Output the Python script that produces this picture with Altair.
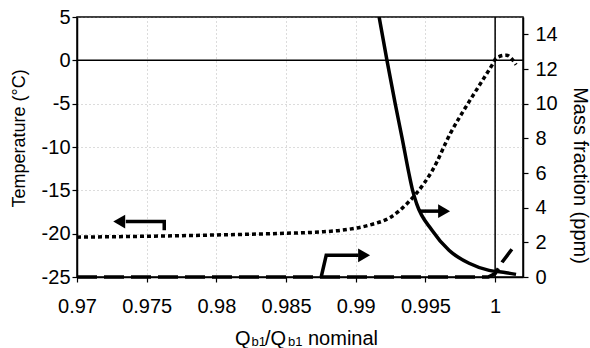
import altair as alt
import pandas as pd

# Temperature (left axis, °C) versus flow ratio
temp_x = [0.970, 0.975, 0.980, 0.985, 0.9875, 0.989, 0.991, 0.9925, 0.9937,
          0.9949, 0.9955, 0.9968, 0.9982, 0.9991, 0.9998, 1.0001, 1.0008, 1.0015]
temp_y = [-20.4, -20.3, -20.15, -19.95, -19.8, -19.6, -19.0, -18.1, -16.5,
          -14.2, -12.7, -8.4, -4.6, -2.3, -0.5, 0.3, 0.6, -0.5]

# Mass fraction (right axis, ppm), solid curve
solid_x = [0.99161, 0.99224, 0.99283, 0.99333, 0.99381, 0.99408, 0.99436,
           0.99547, 0.99669, 0.99813, 0.99957, 1.0008, 1.0015]
solid_y = [15.3, 12.5, 10.0, 8.0, 6.0, 5.0, 4.25, 2.7, 1.54, 0.79, 0.38, 0.25, 0.15]

# Mass fraction (right axis, ppm), dashed curve
dash_x = [0.970, 0.980, 0.990, 0.9995, 1.0000, 1.0005, 1.0012]
dash_y = [0.0, 0.0, 0.0, 0.0, 0.2, 0.85, 1.6]

# Arrow annotations (data coordinates)
arrow_left_x = [0.97626, 0.97626, 0.9735]      # temperature axis
arrow_left_y = [-19.6, -18.6, -18.6]
arrow_solid_x = [0.99455, 0.9961]              # mass-fraction axis
arrow_solid_y = [3.8, 3.8]
arrow_bent_x = [0.98752, 0.98788, 0.9902]      # mass-fraction axis
arrow_bent_y = [0.0, 1.25, 1.25]
head_left = {"x": [0.97303], "y": [-18.6]}
head_right = {"x": [0.99634, 0.9906], "y": [3.8, 1.25]}

x_ticks = [0.97, 0.975, 0.98, 0.985, 0.99, 0.995, 1.0]
t_ticks = [-25, -20, -15, -10, -5, 0, 5]
m_ticks = [0, 2, 4, 6, 8, 10, 12, 14]

FONT = "Liberation Sans"

xscale = alt.Scale(domain=[0.97, 1.002], nice=False, zero=False)
tscale = alt.Scale(domain=[-25, 5], nice=False, zero=False)
mscale = alt.Scale(domain=[0, 15], nice=False, zero=True)

common = dict(labelFont=FONT, labelFontSize=20, labelColor="black",
              titleFont=FONT, titleFontWeight="normal", titleColor="black",
              domainColor="black", domainWidth=1.5, tickColor="black",
              tickWidth=1.2, labelOverlap=False)

x_axis = alt.Axis(values=x_ticks, format=".3~f", title="", grid=True,
                  gridDash=[1, 3], gridColor="#888888", gridOpacity=0.6,
                  tickSize=5, labelPadding=14, labelFlush=False, **common)
t_axis = alt.Axis(values=t_ticks, title="Temperature  (°C)",
                  labelExpr="replace(format(datum.value, 'd'), '\u2212', '-')",
                  grid=True, gridDash=[1, 3], gridColor="#888888", gridOpacity=0.6,
                  tickSize=5, labelPadding=2,
                  titleAngle=270, titleX=-58, titleY=121, titleAlign="center",
                  titleBaseline="middle", titleFontSize=18, **common)
m_axis = alt.Axis(values=m_ticks, format="d", title="Mass fraction (ppm)",
                  orient="right", grid=False, tickSize=5, labelPadding=7,
                  titleAngle=90, titleX=56, titleY=158, titleAlign="center",
                  titleBaseline="middle", titleFontSize=20, **common)

temp_df = pd.DataFrame({"x": temp_x, "y": temp_y})
solid_df = pd.DataFrame({"x": solid_x, "y": solid_y})
dash_df = pd.DataFrame({"x": dash_x, "y": dash_y})
al_df = pd.DataFrame({"x": arrow_left_x, "y": arrow_left_y, "o": range(3)})
as_df = pd.DataFrame({"x": arrow_solid_x, "y": arrow_solid_y, "o": range(2)})
ab_df = pd.DataFrame({"x": arrow_bent_x, "y": arrow_bent_y, "o": range(3)})
hl_df = pd.DataFrame(head_left)
hr_df = pd.DataFrame(head_right)
one = pd.DataFrame({"k": [0]})

# every layer uses the same axis definition, so the merged axes agree
X = lambda: alt.X("x:Q", scale=xscale, axis=x_axis)
YT = lambda: alt.Y("y:Q", scale=tscale, axis=t_axis)
YM = lambda: alt.Y("y:Q", scale=mscale, axis=m_axis)

# ---- temperature layer (left axis) ----
temp_line = alt.Chart(temp_df).mark_line(
    color="black", strokeWidth=3.5, strokeDash=[4, 3], interpolate="monotone"
).encode(x=X(), y=YT())

zero_rule = alt.Chart(one).mark_rule(color="black", strokeWidth=1.5).encode(
    y=alt.datum(0, scale=tscale, type="quantitative", axis=t_axis))

one_rule = alt.Chart(one).mark_rule(color="black", strokeWidth=1.5).encode(
    x=alt.datum(1.0, scale=xscale, type="quantitative", axis=x_axis))

left_arrow = alt.Chart(al_df).mark_line(color="black", strokeWidth=3.5).encode(
    x=X(), y=YT(), order="o:Q")
left_head = alt.Chart(hl_df).mark_point(
    shape="triangle-left", filled=True, color="black", size=190, opacity=1
).encode(x=X(), y=YT())

# x-axis title with subscripts, assembled from text pieces
def piece(txt, px, py, size):
    return alt.Chart(one).mark_text(
        text=txt, align="left", baseline="alphabetic", font=FONT,
        fontSize=size, color="black"
    ).encode(x=alt.value(px), y=alt.value(py))

title_parts = [
    piece("Q", 158, 328, 20),
    piece("b1", 174.5, 329, 13),
    piece("/Q", 188, 328, 20),
    piece("b1", 211, 329, 13),
    piece("nominal", 231, 328, 20),
]

temp_layer = alt.layer(temp_line, zero_rule, one_rule, left_arrow, left_head,
                       *title_parts)

# ---- mass-fraction layer (right axis) ----
solid_line = alt.Chart(solid_df).mark_line(
    color="black", strokeWidth=3.5, interpolate="monotone", clip=True
).encode(x=X(), y=YM())

dash_line = alt.Chart(dash_df).mark_line(
    color="black", strokeWidth=3.5, strokeDash=[20, 7]
).encode(x=X(), y=YM())

solid_arrow = alt.Chart(as_df).mark_line(color="black", strokeWidth=3.5).encode(
    x=X(), y=YM(), order="o:Q")
bent_arrow = alt.Chart(ab_df).mark_line(color="black", strokeWidth=3.5).encode(
    x=X(), y=YM(), order="o:Q")
right_heads = alt.Chart(hr_df).mark_point(
    shape="triangle-right", filled=True, color="black", size=190, opacity=1
).encode(x=X(), y=YM())

mass_layer = alt.layer(solid_line, dash_line, solid_arrow, bent_arrow, right_heads)

chart = alt.layer(temp_layer, mass_layer).resolve_scale(
    y="independent"
).properties(
    width=446, height=260,
    background="white",
    autosize=alt.AutoSizeParams(type="none"),
    padding={"left": 77, "top": 17, "right": 67, "bottom": 71},
).configure_view(
    stroke="black", strokeWidth=1.5
)

chart.save("out.html", embed_options={"renderer": "svg", "actions": False})
